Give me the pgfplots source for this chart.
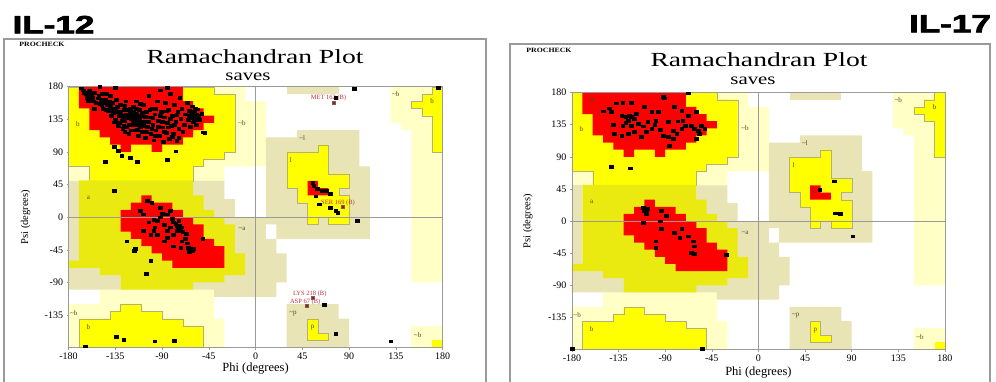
\documentclass[border=0pt]{standalone}
\usepackage{fontspec}
\setmainfont{Liberation Serif}
\newfontfamily\headfont{Liberation Sans}[BoldFeatures={FakeBold=2.5}]
\usepackage{pgfplots}
\pgfplotsset{compat=1.18}
\definecolor{core}{HTML}{FF0000}
\definecolor{allow}{HTML}{FFFF00}
\definecolor{allowd}{HTML}{EAEA10}
\definecolor{gen}{HTML}{FFFFC6}
\definecolor{gent}{HTML}{E8E4B6}
\definecolor{lbl}{HTML}{C03038}
\definecolor{framec}{HTML}{9A9A9A}
\definecolor{rl}{HTML}{4A4A20}
\definecolor{edge}{HTML}{B4B078}

\newcommand{\regions}{%
% generously allowed (light)
\addplot[fill=gen,draw=none] coordinates {(-50,180)(-10,180)(-10,160)(10,160)(10,70)(-30,70)(-30,50)(-60,50)(-60,180)} --cycle;
\addplot[fill=gen,draw=none] coordinates {(-180,70)(-160,70)(-160,50)(-180,50)} --cycle;
\addplot[fill=gen,draw=none] coordinates {(-180,-120)(-150,-120)(-150,-100)(-40,-100)(-40,-140)(-30,-140)(-30,-180)(-180,-180)} --cycle;
\addplot[fill=gen,draw=none] coordinates {(130,180)(180,180)(180,-90)(150,-90)(150,120)(140,120)(140,130)(130,130)} --cycle;
\addplot[fill=gen,draw=none] coordinates {(150,-150)(180,-150)(180,-180)(150,-180)} --cycle;
% generously allowed (tan)
\addplot[fill=gent,draw=none] coordinates {(-180,50)(-170,50)(-170,-60)(-180,-60)} --cycle;
\addplot[fill=gent,draw=none] coordinates {(-180,-70)(-150,-70)(-150,-80)(-130,-80)(-130,-100)(-180,-100)} --cycle;
\addplot[fill=gent,draw=none] coordinates {(-60,50)(-30,50)(-30,25)(-20,25)(-20,0)(10,0)(10,-30)(20,-30)(20,-50)(30,-50)(30,-90)(20,-90)(20,-110)(-40,-110)(-40,-100)(-130,-100)(-130,-80)(-60,-80)} --cycle;
\addplot[fill=gent,draw=none] coordinates {(10,110)(40,110)(40,120)(100,120)(100,70)(110,70)(110,-30)(20,-30)(20,-10)(10,-10)} --cycle;
\addplot[fill=gent,draw=none] coordinates {(30,180)(80,180)(80,170)(30,170)} --cycle;
\addplot[fill=gent,draw=none] coordinates {(30,-120)(80,-120)(80,-140)(90,-140)(90,-180)(30,-180)} --cycle;
% allowed
\addplot[fill=allow,draw=edge,line width=0.3pt] coordinates {(-180,180)(-40,180)(-40,170)(-20,170)(-20,90)(-30,90)(-30,80)(-50,80)(-50,70)(-60,70)(-60,50)(-160,50)(-160,70)(-180,70)} --cycle;
\addplot[fill=allow,draw=edge,line width=0.3pt] coordinates {(-170,-180)(-170,-140)(-140,-140)(-140,-130)(-130,-130)(-130,-120)(-110,-120)(-110,-130)(-90,-130)(-90,-140)(-70,-140)(-70,-150)(-50,-150)(-50,-180)} --cycle;
\addplot[fill=allow,draw=edge,line width=0.3pt] coordinates {(170,180)(180,180)(180,90)(170,90)(170,140)(160,140)(160,150)(150,150)(150,160)(160,160)(160,170)(170,170)} --cycle;
\addplot[fill=allow,draw=none] coordinates {(170,-170)(180,-170)(180,-180)(170,-180)} --cycle;
\addplot[fill=allow,draw=edge,line width=0.3pt] coordinates {(30,90)(60,90)(60,100)(70,100)(70,60)(90,60)(90,40)(80,40)(80,30)(90,30)(90,-10)(70,-10)(70,0)(60,0)(60,-10)(50,-10)(50,20)(40,20)(40,40)(30,40)} --cycle;
\addplot[fill=allow,draw=edge,line width=0.3pt] coordinates {(50,-140)(60,-140)(60,-160)(70,-160)(70,-170)(50,-170)} --cycle;
\addplot[fill=allowd,draw=none] coordinates {(-170,50.6)(-60,50.6)(-60,30)(-50,30)(-50,10)(-40,10)(-40,0)(-30,0)(-30,-10)(-20,-10)(-20,-50)(-10,-50)(-10,-80)(-30,-80)(-30,-90)(-60,-90)(-60,-100)(-130,-100)(-130,-80)(-150,-80)(-150,-70)(-180,-70)(-180,-60)(-170,-60)} --cycle;
% core
\addplot[fill=core,draw=none] coordinates {(-170,180)(-70,180)(-70,160)(-60,160)(-60,150)(-50,150)(-50,140)(-40,140)(-40,130)(-50,130)(-50,120)(-60,120)(-60,110)(-70,110)(-70,100)(-90,100)(-90,90)(-100,90)(-100,100)(-120,100)(-120,90)(-130,90)(-130,100)(-140,100)(-140,110)(-150,110)(-150,120)(-160,120)(-160,150)(-170,150)} --cycle;
\addplot[fill=core,draw=none] coordinates {(-130,10)(-120,10)(-120,20)(-110,20)(-110,30)(-100,30)(-100,20)(-80,20)(-80,10)(-70,10)(-70,0)(-60,0)(-60,-10)(-50,-10)(-50,-30)(-40,-30)(-40,-40)(-30,-40)(-30,-70)(-80,-70)(-80,-60)(-90,-60)(-90,-50)(-100,-50)(-100,-40)(-110,-40)(-110,-30)(-120,-30)(-120,-20)(-130,-20)} --cycle;
\addplot[fill=core,draw=none] coordinates {(50,50)(60,50)(60,40)(70,40)(70,30)(50,30)} --cycle;
% centre lines
\addplot[framec,line width=0.5pt] coordinates {(0,-180)(0,180)};
\addplot[framec,line width=0.5pt] coordinates {(-180,0)(180,0)};
% region letters
\begin{scope}[every node/.style={font=\fontsize{7}{8}\selectfont,text=rl,inner sep=0pt}]
\node at (axis cs:-171,129) {b};
\node at (axis cs:-161,27) {a};
\node at (axis cs:-13,130) {\textasciitilde b};
\node at (axis cs:-13,-16) {\textasciitilde a};
\node at (axis cs:45,109) {\textasciitilde l};
\node at (axis cs:34,79) {l};
\node at (axis cs:135,170) {\textasciitilde b};
\node at (axis cs:170,160) {b};
\node at (axis cs:-175,-132) {\textasciitilde b};
\node at (axis cs:-161,-152) {b};
\node at (axis cs:36,-133) {\textasciitilde p};
\node at (axis cs:55,-153) {p};
\node at (axis cs:156,-163) {\textasciitilde b};
\end{scope}
}

\pgfplotsset{ram/.style={
  anchor=south west, scale only axis,
  xmin=-180,xmax=180,ymin=-180,ymax=180,
  xtick={-180,-135,...,180}, ytick={-135,-90,...,180},
  axis line style={framec,line width=0.6pt},
  tick style={framec,line width=0.5pt}, major tick length=2pt,
  tick align=outside, tick pos=left,
  ticklabel style={font=\fontsize{10}{11}\selectfont},
  /pgf/number format/assume math mode=true,
  xlabel={Phi (degrees)}, ylabel={Psi (degrees)},
  xlabel style={font=\fontsize{12.5}{13}\selectfont,anchor=center},
  ylabel style={font=\fontsize{10.5}{11}\selectfont,anchor=center},
  axis on top, clip=true,
}, pts/.style={only marks, mark=square*, mark size=1.6pt, black, mark options={xscale=1.15,yscale=0.85}},
rpts/.style={only marks, mark=square*, mark size=1.5pt, mark options={fill=red!85!black, draw=black!60}}}

\begin{document}
\begin{tikzpicture}[x=1pt,y=1pt]
\path[use as bounding box] (0,0) rectangle (996,381);
\fill[white] (0,0) rectangle (996,381);
\draw[framec,line width=1.3pt] (4,-5) -- (4,342) -- (486,342) -- (486,-5);
\draw[framec,line width=1.3pt] (510,-5) -- (510,337) -- (990,337) -- (990,-5);
\node[font=\headfont\bfseries\fontsize{25}{26}\selectfont, xscale=1.4, anchor=base] at (53.5,347.7) {IL-12};
\node[font=\headfont\bfseries\fontsize{25}{26}\selectfont, xscale=1.4, anchor=base] at (950,348.7) {IL-17};
\node[font=\bfseries\fontsize{6.5}{7}\selectfont, xscale=1.2, anchor=base] at (42,334) {PROCHECK};
\node[font=\bfseries\fontsize{6.5}{7}\selectfont, xscale=1.2, anchor=base] at (549,328.7) {PROCHECK};
\node[font=\fontsize{20}{22}\selectfont, xscale=1.38, anchor=base] at (255,317.7) {Ramachandran Plot};
\node[font=\fontsize{16}{18}\selectfont, xscale=1.3, anchor=base] at (248,300) {saves};
\node[font=\fontsize{20}{22}\selectfont, xscale=1.38, anchor=base] at (759,314.3) {Ramachandran Plot};
\node[font=\fontsize{16}{18}\selectfont, xscale=1.3, anchor=base] at (753,296) {saves};

\begin{axis}[ram, at={(66,46)}, width=374pt, height=261pt,
  xlabel style={at={(axis description cs:0.5,-0.08)}},
  ylabel style={at={(axis description cs:-0.115,0.5)}}]
\regions
\addplot[pts] coordinates {
(-168,178)(-165,172)(-162,165)(-160,175)(-158,168)(-156,160)(-155,172)(-152,164)(-150,156)(-148,170)
(-147,150)(-145,162)(-143,155)(-142,146)(-140,168)(-139,140)(-138,158)(-136,150)(-135,135)(-134,162)
(-133,145)(-131,130)(-130,155)(-129,140)(-128,122)(-127,148)(-126,133)(-125,160)(-124,125)(-123,142)
(-122,115)(-121,150)(-120,135)(-119,128)(-118,145)(-117,120)(-116,138)(-115,160)(-114,130)(-113,112)
(-112,148)(-111,125)(-110,140)(-109,118)(-108,155)(-107,132)(-106,110)(-105,145)(-104,125)(-103,168)
(-102,138)(-101,115)(-100,150)(-99,128)(-98,106)(-97,142)(-96,120)(-95,160)(-94,133)(-93,112)
(-92,175)(-91,145)(-90,124)(-89,104)(-88,138)(-87,158)(-86,116)(-85,130)(-84,148)(-83,108)
(-82,170)(-81,126)(-80,140)(-79,115)(-78,155)(-77,132)(-76,105)(-75,145)(-74,122)(-73,165)
(-72,136)(-71,150)(-70,118)(-69,128)(-68,142)(-66,158)(-65,134)(-64,147)(-63,125)(-62,140)
(-61,153)(-60,131)(-59,145)(-58,137)(-57,128)(-56,149)(-55,140)(-54,134)(-52,143)(-51,117)(-49,116)
(-128,137)(-125,142)(-122,137)(-119,140)(-117,133)(-124,148)(-130,145)(-135,150)(-140,152)(-115,150)
(-113,138)(-110,130)(-150,180)(-135,179)(-85,179)(-132,126)(-126,118)(-118,152)(-144,170)(-160,164)
(-166,175)(-163,170)(-161,160)(-159,172)(-157,165)(-154,158)(-151,168)(-149,162)(-146,157)(-144,148)
(-141,160)(-139,150)(-137,144)(-136,131)(-133,152)(-131,140)(-129,133)(-127,126)(-126,154)(-124,138)
(-122,128)(-121,144)(-120,120)(-118,133)(-116,127)(-115,143)(-114,121)(-112,135)(-111,156)(-109,144)
(-108,126)(-106,139)(-105,118)(-103,132)(-102,148)(-100,122)(-99,137)(-97,112)(-96,150)(-94,125)
(-92,140)(-90,132)(-88,118)(-86,146)(-84,124)(-82,136)(-80,111)(-78,128)(-76,141)(-74,110)
(-64,140)(-63,137)(-62,145)(-61,138)(-60,142)(-59,134)(-58,150)(-57,141)(-155,150)(-148,155)
(-136,97)(-132,92)(-129,85)(-121,82)(-114,76)(-145,76)(-85,79)(-77,91)(-136,36)
(-104,23)(-100,20)(-111,9)(-108,4)(-103,-7)(-95,-5)(-92,0)(-88,-10)(-85,-19)(-82,-14)
(-79,-7)(-76,-12)(-72,-19)(-71,-14)(-67,-23)(-71,-33)(-63,-44)(-61,-47)(-51,-30)(-79,-40)
(-72,-42)(-98,-19)(-101,-24)(-124,-33)(-116,-44)(-117,-46)(-101,-60)(-105,-78)(-92,13)(-85,4)
(-82,9)(-108,-19)(-95,-24)(-88,-33)(-85,-28)(-79,-24)(-76,-19)(-66,-36)(-80,-2)(-90,5)
(-77,-9)(-75,-15)(-73,-11)(-74,-5)(-70,-20)(-68,-30)(-65,-42)(-64,-48)(-60,-44)(-98,-4)(-97,-14)
(55,48)(56,43)(59,39)(64,36)(68,36)(72,32)(58,29)(61,18)(72,13)(77,9)(79,6)(98,-5)
(95,177)(77,165)(66,-121)(77,-161)(130,-171)(176,179)
(-164,-178)(-134,-165)(-127,-169)(-97,-171)(-78,-170)
};
\addplot[rpts] coordinates {(75.5,158)(83.6,14.3)(54.6,-111)(49,-122.5)};
\begin{scope}[every node/.style={font=\fontsize{6.5}{7}\selectfont,text=lbl,inner sep=0pt,anchor=west}]
\node at (axis cs:53,164) {MET 162 (B)};
\node at (axis cs:63,20) {SER 169 (B)};
\node at (axis cs:36,-105.5) {LYS 218 (B)};
\node at (axis cs:33,-116.5) {ASP 67 (B)};
\end{scope}
\end{axis}

\begin{axis}[ram, at={(552,44)}, width=373pt, height=257pt,
  xlabel style={at={(axis description cs:0.5,-0.09)}},
  ylabel style={at={(axis description cs:-0.118,0.5)}}]
\regions
\node[font=\fontsize{7}{8}\selectfont,text=rl] at (axis cs:-161,169) {B};
\node[font=\fontsize{7}{8}\selectfont,text=rl] at (axis cs:54,42) {L};
\addplot[pts] coordinates {
(-150,154)(-144,158)(-137,165)(-131,166)(-123,166)(-142,153)(-132,148)(-128,146)(-126,141)(-123,146)
(-120,143)(-140,135)(-131,134)(-123,134)(-116,136)(-111,133)(-107,139)(-103,153)(-97,153)(-99,141)
(-103,129)(-108,125)(-113,118)(-120,125)(-126,122)(-132,120)(-139,122)(-92,120)(-87,118)(-82,115)
(-86,106)(-79,122)(-74,129)(-71,134)(-73,141)(-68,148)(-81,160)(-74,155)(-82,127)(-91,172)
(-92,174)(-68,179)(-60,153)(-65,134)(-62,129)(-58,127)(-55,134)(-52,129)(-57,122)(-60,115)
(-87,139)(-125,148)(-128,138)(-118,150)(-110,160)(-100,135)(-95,128)(-78,140)
(-142,76)(-124,74)(-180,-179)(-54,-179)
(-111,19)(-110,15)(-108,10)(-107,17)(-108,13)(-94,15)(-89,8)(-95,0)(-111,-2)(-94,-11)
(-81,-16)(-74,-11)(-76,-23)(-68,-21)(-63,-28)(-62,-35)(-65,-44)(-62,-46)(-99,-28)(-99,-37)(-31,-47)
(59,44)(73,56)(74,11)(79,10)(91,-21)
};
\end{axis}
\end{tikzpicture}
\end{document}
